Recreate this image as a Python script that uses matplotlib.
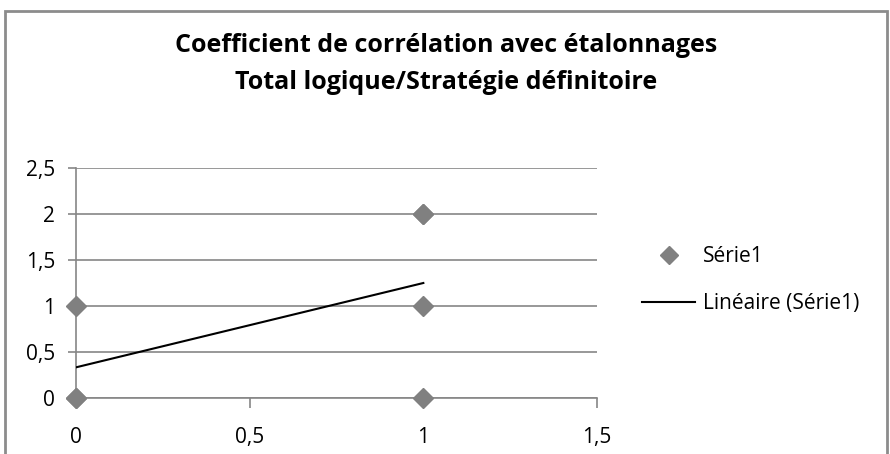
import numpy as np
import matplotlib.pyplot as plt
from matplotlib.patches import Rectangle
from matplotlib.lines import Line2D

# Données (plusieurs points se superposent)
x_vals = [0, 0, 0, 1, 1, 1, 1]
y_vals = [0, 0, 1, 0, 1, 2, 2]

x_ticks = [0, 0.5, 1, 1.5]
y_ticks = [0, 0.5, 1, 1.5, 2, 2.5]

titre = "Coefficient de corrélation avec étalonnages\nTotal logique/Stratégie définitoire"

plt.rcParams['font.family'] = ['Open Sans', 'DejaVu Sans']

fig = plt.figure(figsize=(8.9, 4.54), dpi=100)
# Cadre du graphique (façon Excel)
fig.patches.append(Rectangle((5 / 890, -0.1), 882 / 890, 1.1 - 11 / 454,
                             transform=fig.transFigure, fill=False,
                             edgecolor='#8c8c8c', linewidth=2))

ax = fig.add_axes([76 / 890, 1 - 398 / 454, 521 / 890, 230 / 454])

gris = '#868686'
ax.set_xlim(0, 1.5)
ax.set_ylim(0, 2.5)
ax.set_xticks(x_ticks)
ax.set_yticks(y_ticks)
fmt = lambda v: ('%g' % v).replace('.', ',')
ax.set_xticklabels([fmt(v) for v in x_ticks])
ax.set_yticklabels([fmt(v) for v in y_ticks])
ax.grid(axis='y', color=gris, linewidth=1.2)
ax.set_axisbelow(True)
for s in ['top', 'right']:
    ax.spines[s].set_visible(False)
for s in ['left', 'bottom']:
    ax.spines[s].set_color(gris)
    ax.spines[s].set_linewidth(1.2)
ax.tick_params(axis='x', direction='out', length=7, width=1.2, color=gris,
               labelsize=15, pad=14)
ax.tick_params(axis='y', direction='out', length=6, width=1.2, color=gris,
               labelsize=15, pad=9)

# Nuage de points
ax.plot(x_vals, y_vals, linestyle='none', marker='D', markersize=10.5,
        color='#808080', clip_on=False, zorder=3)

# Courbe de tendance linéaire
a, b = np.polyfit(x_vals, y_vals, 1)
xt = np.array([min(x_vals), max(x_vals)])
ax.plot(xt, a * xt + b, color='black', linewidth=1.5, zorder=4)

fig.text(446 / 890, 1 - 64 / 454, titre, ha='center', va='center',
         fontsize=18, fontweight='bold', linespacing=1.65)

handles = [Line2D([], [], linestyle='none', marker='D', markersize=9, color='#808080'),
           Line2D([], [], color='black', linewidth=1.5)]
fig.legend(handles, ['Série1', 'Linéaire (Série1)'], loc='upper left',
           bbox_to_anchor=(642 / 890, 1 - 246 / 454), frameon=False,
           fontsize=15, handlelength=2.55, handletextpad=0.38,
           labelspacing=1.25, borderpad=0, borderaxespad=0)

fig.savefig('out.png', dpi=100)
